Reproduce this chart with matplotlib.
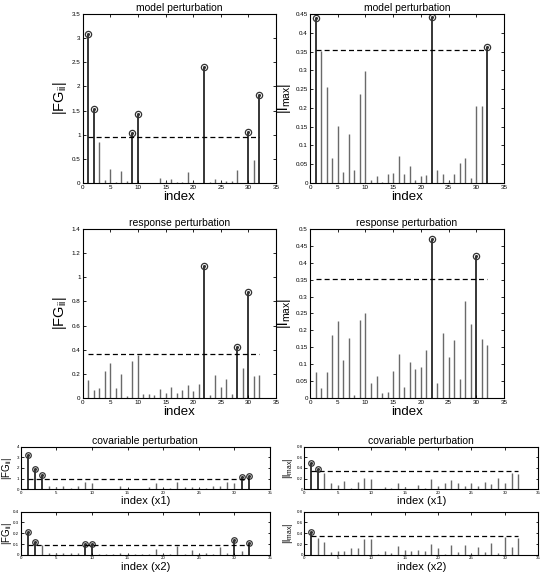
import matplotlib
matplotlib.use("Agg")
import matplotlib.pyplot as plt
import numpy as np

plt.rcParams['font.family'] = ['Liberation Sans', 'DejaVu Sans']
plt.rcParams['mathtext.fontset'] = 'custom'
plt.rcParams['mathtext.rm'] = 'Liberation Sans'
plt.rcParams['mathtext.it'] = 'Liberation Sans'

idx = np.arange(1, 33)

# model perturbation
fg_model = [3.08, 1.54, 0.85, 0.07, 0.30, 0.02, 0.25, 0.04, 1.03, 1.43,
            0.01, 0.01, 0.01, 0.10, 0.03, 0.08, 0.02, 0.03, 0.23, 0.03,
            0.01, 2.40, 0.02, 0.09, 0.03, 0.05, 0.04, 0.27, 0.01, 1.06,
            0.47, 1.82]
fg_model_cut = 0.95
lm_model = [0.438, 0.352, 0.255, 0.067, 0.153, 0.030, 0.130, 0.035, 0.238, 0.297,
            0.007, 0.019, 0.003, 0.023, 0.028, 0.072, 0.023, 0.044, 0.009, 0.020,
            0.021, 0.443, 0.034, 0.023, 0.005, 0.025, 0.052, 0.066, 0.013, 0.205,
            0.205, 0.362]
lm_model_cut = 0.353

# response perturbation
fg_resp = [0.15, 0.065, 0.08, 0.22, 0.29, 0.085, 0.20, 0.015, 0.31, 0.36,
           0.03, 0.03, 0.025, 0.075, 0.04, 0.095, 0.04, 0.065, 0.11, 0.055,
           0.115, 1.09, 0.025, 0.19, 0.09, 0.16, 0.035, 0.42, 0.245, 0.88,
           0.18, 0.19]
fg_resp_cut = 0.365
lm_resp = [0.077, 0.030, 0.078, 0.187, 0.227, 0.113, 0.177, 0.010, 0.230, 0.250,
           0.045, 0.065, 0.015, 0.018, 0.080, 0.131, 0.034, 0.108, 0.087, 0.092,
           0.142, 0.470, 0.045, 0.191, 0.122, 0.173, 0.055, 0.288, 0.220, 0.420,
           0.176, 0.158]
lm_resp_cut = 0.353

# covariable perturbation
fg_x1 = [3.25, 1.9, 1.33, 0.35, 0.25, 0.35, 0.10, 0.30, 0.70, 0.60,
         0.05, 0.05, 0.05, 0.35, 0.05, 0.05, 0.05, 0.20, 0.60, 0.10,
         0.15, 0.70, 0.20, 0.20, 0.15, 0.15, 0.30, 0.35, 0.65, 0.55,
         1.15, 1.25]
fg_x1_cut = 1.0
fg_x2 = [0.215, 0.122, 0.09, 0.02, 0.02, 0.015, 0.02, 0.02, 0.105, 0.10,
         0.005, 0.005, 0.005, 0.02, 0.005, 0.005, 0.005, 0.005, 0.055, 0.01,
         0.005, 0.085, 0.01, 0.045, 0.005, 0.02, 0.005, 0.07, 0.02, 0.14,
         0.04, 0.115]
fg_x2_cut = 0.09
lm_x1 = [0.49, 0.375, 0.30, 0.12, 0.09, 0.15, 0.02, 0.13, 0.21, 0.19,
         0.01, 0.05, 0.03, 0.11, 0.04, 0.01, 0.09, 0.02, 0.20, 0.07,
         0.11, 0.17, 0.11, 0.07, 0.11, 0.06, 0.13, 0.10, 0.21, 0.11,
         0.30, 0.29]
lm_x1_cut = 0.35
lm_x2 = [0.42, 0.31, 0.24, 0.06, 0.08, 0.07, 0.12, 0.13, 0.30, 0.29,
         0.01, 0.08, 0.04, 0.16, 0.10, 0.07, 0.09, 0.07, 0.21, 0.13,
         0.02, 0.18, 0.06, 0.19, 0.01, 0.14, 0.05, 0.23, 0.03, 0.33,
         0.14, 0.31]
lm_x2_cut = 0.35

FG = r'$|\mathrm{FG}_{\mathrm{ii}}|$'
LM = r'$|\mathrm{l}_{\mathrm{max}}|$'


def stems(ax, vals, cut, ymax, yticks, ylab, xlab, title=None, small=False):
    vals = np.array(vals)
    hit = vals > cut
    ax.vlines(idx[~hit], 0, vals[~hit], color='#6a6a6a', lw=1.0)
    ax.vlines(idx[hit], 0, vals[hit], color='black', lw=1.1)
    ms = 4.5 if not small else 4
    ax.plot(idx[hit], vals[hit], 'o', mfc='none', mec='#333333', ms=ms, mew=0.9)
    ax.plot(idx[hit], vals[hit], '.', color='#333333', ms=2.5)
    ax.plot([1, 32], [cut, cut], '--', color='black', lw=0.9, dashes=(4, 2.5))
    ax.set_xlim(0, 35)
    ax.set_ylim(0, ymax)
    ax.set_xticks(np.arange(0, 36, 5))
    ax.set_yticks(yticks)
    ax.set_yticklabels(['%g' % t for t in yticks])
    ax.tick_params(direction='in', top=True, right=True,
                   labelsize=4.5 if not small else 3.2,
                   length=2.5 if not small else 1.8, width=0.6,
                   pad=1.5 if not small else 1.0)
    for s in ax.spines.values():
        s.set_linewidth(0.8)
    if small:
        ax.set_xlabel(xlab, fontsize=8, labelpad=1)
        ax.set_ylabel(ylab, fontsize=7)
    else:
        ax.set_xlabel(xlab, fontsize=9.5, labelpad=1)
        ax.set_ylabel(ylab, fontsize=10.5, labelpad=2)
    if title:
        ax.set_title(title, fontsize=7.5, pad=2)


fig = plt.figure(figsize=(5.53, 5.75), dpi=100)

ax1 = fig.add_axes([0.1496, 0.6817, 0.3494, 0.2940])
stems(ax1, fg_model, fg_model_cut, 3.5, np.arange(0, 3.6, 0.5), FG, 'index',
      'model perturbation')
ax2 = fig.add_axes([0.5606, 0.6817, 0.3508, 0.2940])
stems(ax2, lm_model, lm_model_cut, 0.45, np.arange(0, 0.46, 0.05).round(2), LM,
      'index', 'model perturbation')

ax3 = fig.add_axes([0.1496, 0.3078, 0.3494, 0.2940])
stems(ax3, fg_resp, fg_resp_cut, 1.4, np.arange(0, 1.41, 0.2).round(1), FG,
      'index', 'response perturbation')
ax4 = fig.add_axes([0.5606, 0.3078, 0.3508, 0.2940])
stems(ax4, lm_resp, lm_resp_cut, 0.5, np.arange(0, 0.51, 0.05).round(2), LM,
      'index', 'response perturbation')

ax5 = fig.add_axes([0.0374, 0.1490, 0.4509, 0.0742])
stems(ax5, fg_x1, fg_x1_cut, 4, [0, 1, 2, 3, 4], FG, 'index (x1)',
      'covariable perturbation', small=True)
ax6 = fig.add_axes([0.0374, 0.0348, 0.4509, 0.0754])
stems(ax6, fg_x2, fg_x2_cut, 0.4, [0, 0.1, 0.2, 0.3, 0.4], FG, 'index (x2)',
      small=True)
for a in (ax5, ax6):
    a.yaxis.set_label_coords(-0.026, 0.5)

ax7 = fig.add_axes([0.5503, 0.1490, 0.4231, 0.0742])
stems(ax7, lm_x1, lm_x1_cut, 0.8, [0, 0.2, 0.4, 0.6, 0.8], LM, 'index (x1)',
      'covariable perturbation', small=True)
ax8 = fig.add_axes([0.5503, 0.0348, 0.4231, 0.0754])
stems(ax8, lm_x2, lm_x2_cut, 0.8, [0, 0.2, 0.4, 0.6, 0.8], LM, 'index (x2)',
      small=True)
for a in (ax7, ax8):
    a.yaxis.set_label_coords(-0.04, 0.5)

fig.savefig('out.png', dpi=100)
